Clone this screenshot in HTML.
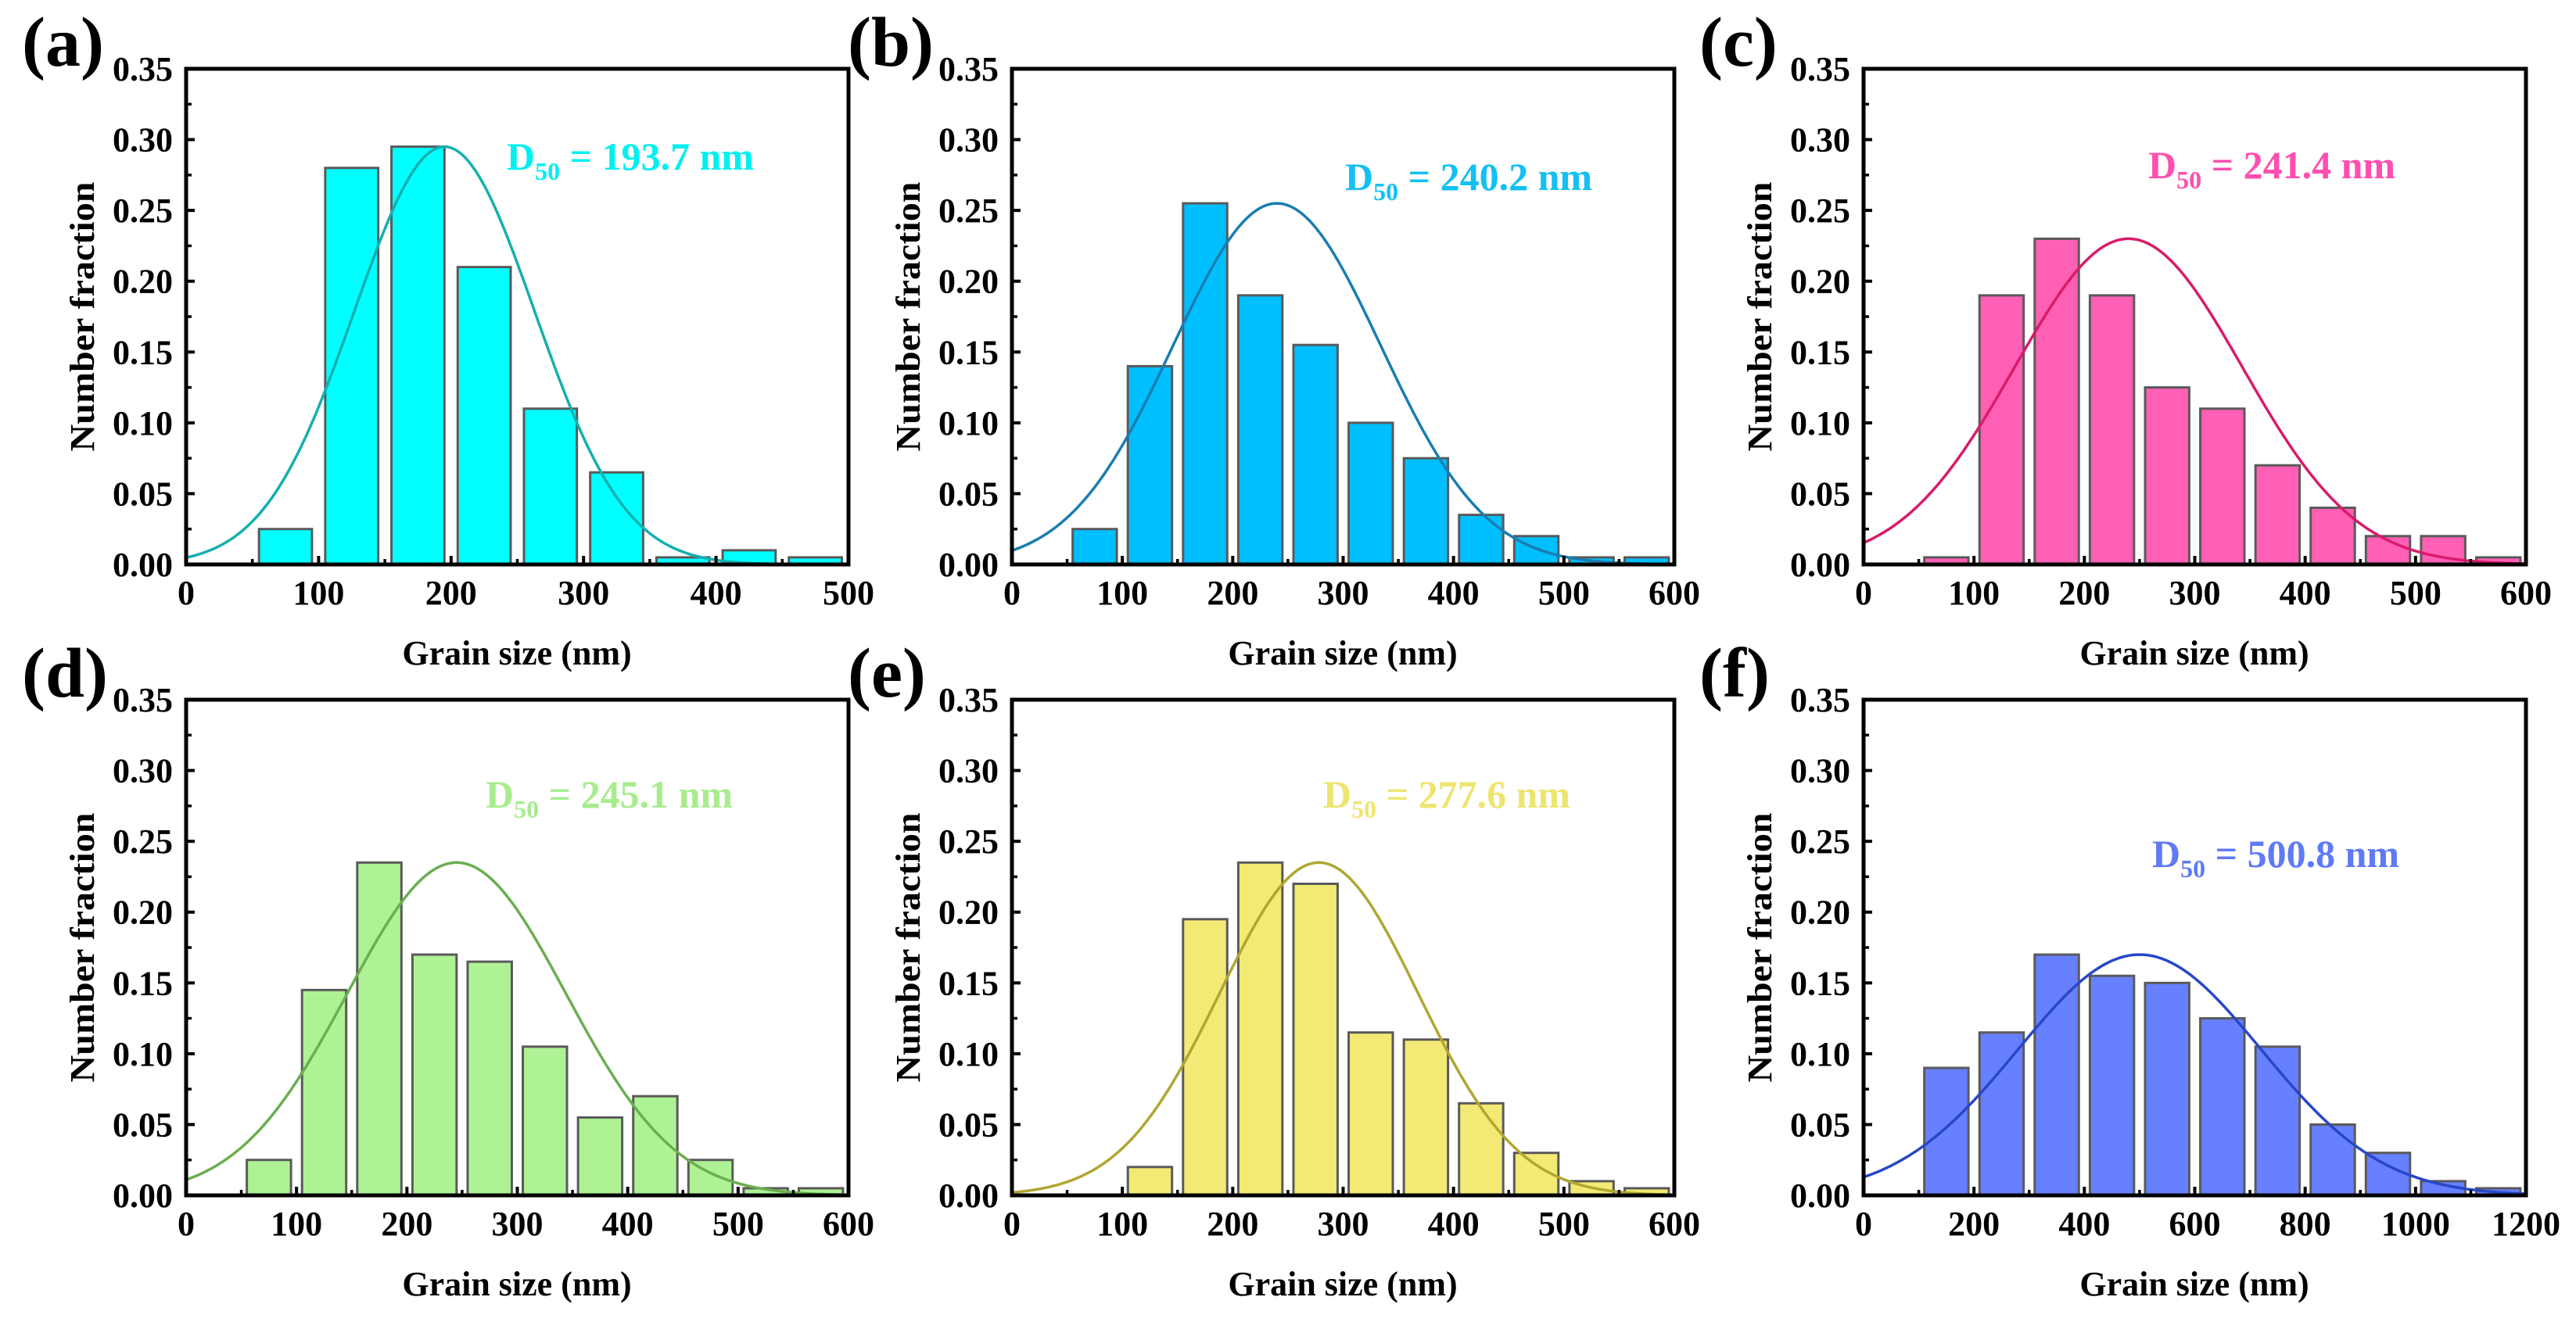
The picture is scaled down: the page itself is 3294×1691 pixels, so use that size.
<!DOCTYPE html>
<html><head><meta charset="utf-8"><style>
html,body{margin:0;padding:0;background:#fff;}
svg{display:block;}
text{font-family:"Liberation Serif","Times New Roman",serif;font-weight:bold;}
</style></head><body>
<svg id="fig" width="3294" height="1691" viewBox="0 0 3294 1691" xmlns="http://www.w3.org/2000/svg"></svg>
<script>
// ---- data ----
const labelsA = ["(a)","(b)","(c)","(d)","(e)","(f)"];
const d50Text = ["193.7","240.2","241.4","245.1","277.6","500.8"];
const xMax = [500,600,600,600,600,1200];
const binWidth = [50,50,50,50,50,100];
const firstCenter = [75,75,75,75,125,150];
const valuesA = [0.025,0.28,0.295,0.21,0.11,0.065,0.005,0.01,0.005];
const valuesB = [0.025,0.14,0.255,0.19,0.155,0.10,0.075,0.035,0.02,0.005,0.005];
const valuesC = [0.005,0.19,0.23,0.19,0.125,0.11,0.07,0.04,0.02,0.02,0.005];
const valuesD = [0.025,0.145,0.235,0.17,0.165,0.105,0.055,0.07,0.025,0.005,0.005];
const valuesE = [0.02,0.195,0.235,0.22,0.115,0.11,0.065,0.03,0.01,0.005];
const valuesF = [0.09,0.115,0.17,0.155,0.15,0.125,0.105,0.05,0.03,0.01,0.005];
const fitMean = [195,240,240,245,278,500];
const fitSigma = [68,94,103,99,90,220];
const fitPeak = [0.295,0.255,0.23,0.235,0.235,0.17];
const yTicks = [0,0.05,0.10,0.15,0.20,0.25,0.30,0.35];
const yTickLabels = ["0.00","0.05","0.10","0.15","0.20","0.25","0.30","0.35"];
const xTicksSmall = [0,100,200,300,400,500,600];
const xTicksA = [0,100,200,300,400,500];
const xTicksF = [0,200,400,600,800,1000,1200];
const allValues = [valuesA,valuesB,valuesC,valuesD,valuesE,valuesF];
const allXTicks = [xTicksA,xTicksSmall,xTicksSmall,xTicksSmall,xTicksSmall,xTicksF];

// ---- styles ----
const fills = ["#00FFFF","#00BFFF","#FF5FB4","#AFF296","#F2EA74","#6680FF"];
const lines = ["#14AFAF","#1A7DB0","#D81B6A","#6AAE50","#B0A632","#2847C8"];
const texts = ["#00F0F0","#12C0F2","#FF4FAE","#A8EC8E","#EDE570","#5F7AF5"];
const boxL = [238,1294,2383,238,1294,2383];
const boxT = [88,88,88,895,895,895];
const boxW = 847, boxH = 634;
const annX = [648,1720,2747,621,1692,2752];
const annY = [217,243,228,1033,1033,1109];

const NS="http://www.w3.org/2000/svg";
const svg=document.getElementById('fig');
function mk(tag,attrs,parent){const e=document.createElementNS(NS,tag);for(const k in attrs)e.setAttribute(k,attrs[k]);(parent||svg).appendChild(e);return e;}

for(let p=0;p<6;p++){
  const g=mk('g',{});
  
  
  const L=boxL[p],T=boxT[p],B=T+boxH,R=L+boxW;
  const xs=v=>L+v/xMax[p]*boxW;
  const ys=v=>B-v/0.35*boxH;
  // bars
  const vals=allValues[p];
  for(let i=0;i<vals.length;i++){
    const c=firstCenter[p]+i*binWidth[p];
    const w=binWidth[p]*0.8;
    const r=mk('rect',{x:xs(c-w/2),y:ys(vals[i]),width:xs(c+w/2)-xs(c-w/2),height:B-ys(vals[i]),fill:fills[p],stroke:'#5a5a5a','stroke-width':3},g);
    
    
  }
  // fit curve
  let d='';
  for(let k=0;k<=300;k++){
    const x=xMax[p]*k/300;
    const y=fitPeak[p]*Math.exp(-Math.pow(x-fitMean[p],2)/(2*fitSigma[p]*fitSigma[p]));
    d+=(k?'L':'M')+xs(x).toFixed(1)+','+ys(y).toFixed(1);
  }
  const pc=mk('path',{d:d,fill:'none',stroke:lines[p],'stroke-width':3.5},g);
  
  
  // frame
  const fr=mk('rect',{x:L,y:T,width:boxW,height:boxH,fill:'none',stroke:'#000','stroke-width':5},g);
  
  
  // y ticks
  for(let i=0;i<yTicks.length;i++){
    const y=ys(yTicks[i]);
    mk('line',{x1:L,x2:L+11,y1:y,y2:y,stroke:'#000','stroke-width':4},g);
    if(i<yTicks.length-1){const ym=ys(yTicks[i]+0.025);mk('line',{x1:L,x2:L+7,y1:ym,y2:ym,stroke:'#000','stroke-width':3.5},g);}
    const t=mk('text',{x:L-17,y:y+15,'font-size':44,'text-anchor':'end',fill:'#000'},g);
    t.textContent=yTickLabels[i];
    
    
  }
  // x ticks
  const xt=allXTicks[p];
  for(let i=0;i<xt.length;i++){
    const x=xs(xt[i]);
    mk('line',{x1:x,x2:x,y1:B,y2:B-11,stroke:'#000','stroke-width':4},g);
    if(i<xt.length-1){const xm=xs((xt[i]+xt[i+1])/2);mk('line',{x1:xm,x2:xm,y1:B,y2:B-7,stroke:'#000','stroke-width':3.5},g);}
    const t=mk('text',{x:x,y:B+51,'font-size':44,'text-anchor':'middle',fill:'#000'},g);
    t.textContent=String(xt[i]);
    
    
  }
  // axis titles
  const xtl=mk('text',{x:L+423,y:B+128,'font-size':44,'text-anchor':'middle',fill:'#000'},g);
  xtl.textContent='Grain size (nm)';
  
  
  const ytl=mk('text',{x:0,y:0,'font-size':44,'text-anchor':'middle',fill:'#000',transform:'translate('+(L-118)+','+(T+317)+') rotate(-90)',textLength:345,lengthAdjust:'spacingAndGlyphs'},g);
  ytl.textContent='Number fraction';
  
  
  // panel label
  const pl=mk('text',{x:L-210,y:T-4,'font-size':90,fill:'#000'},g);
  pl.textContent=labelsA[p];
  
  
  // annotation
  const an=mk('text',{x:annX[p],y:annY[p],'font-size':50,fill:texts[p]},g);
  
  
  const s1=mk('tspan',{},an);s1.textContent='D';
  const s2=mk('tspan',{'font-size':32,dy:13},an);s2.textContent='50';
  const s3=mk('tspan',{dy:-13},an);s3.textContent=' = '+d50Text[p]+' nm';
}
</script>
</body></html>
